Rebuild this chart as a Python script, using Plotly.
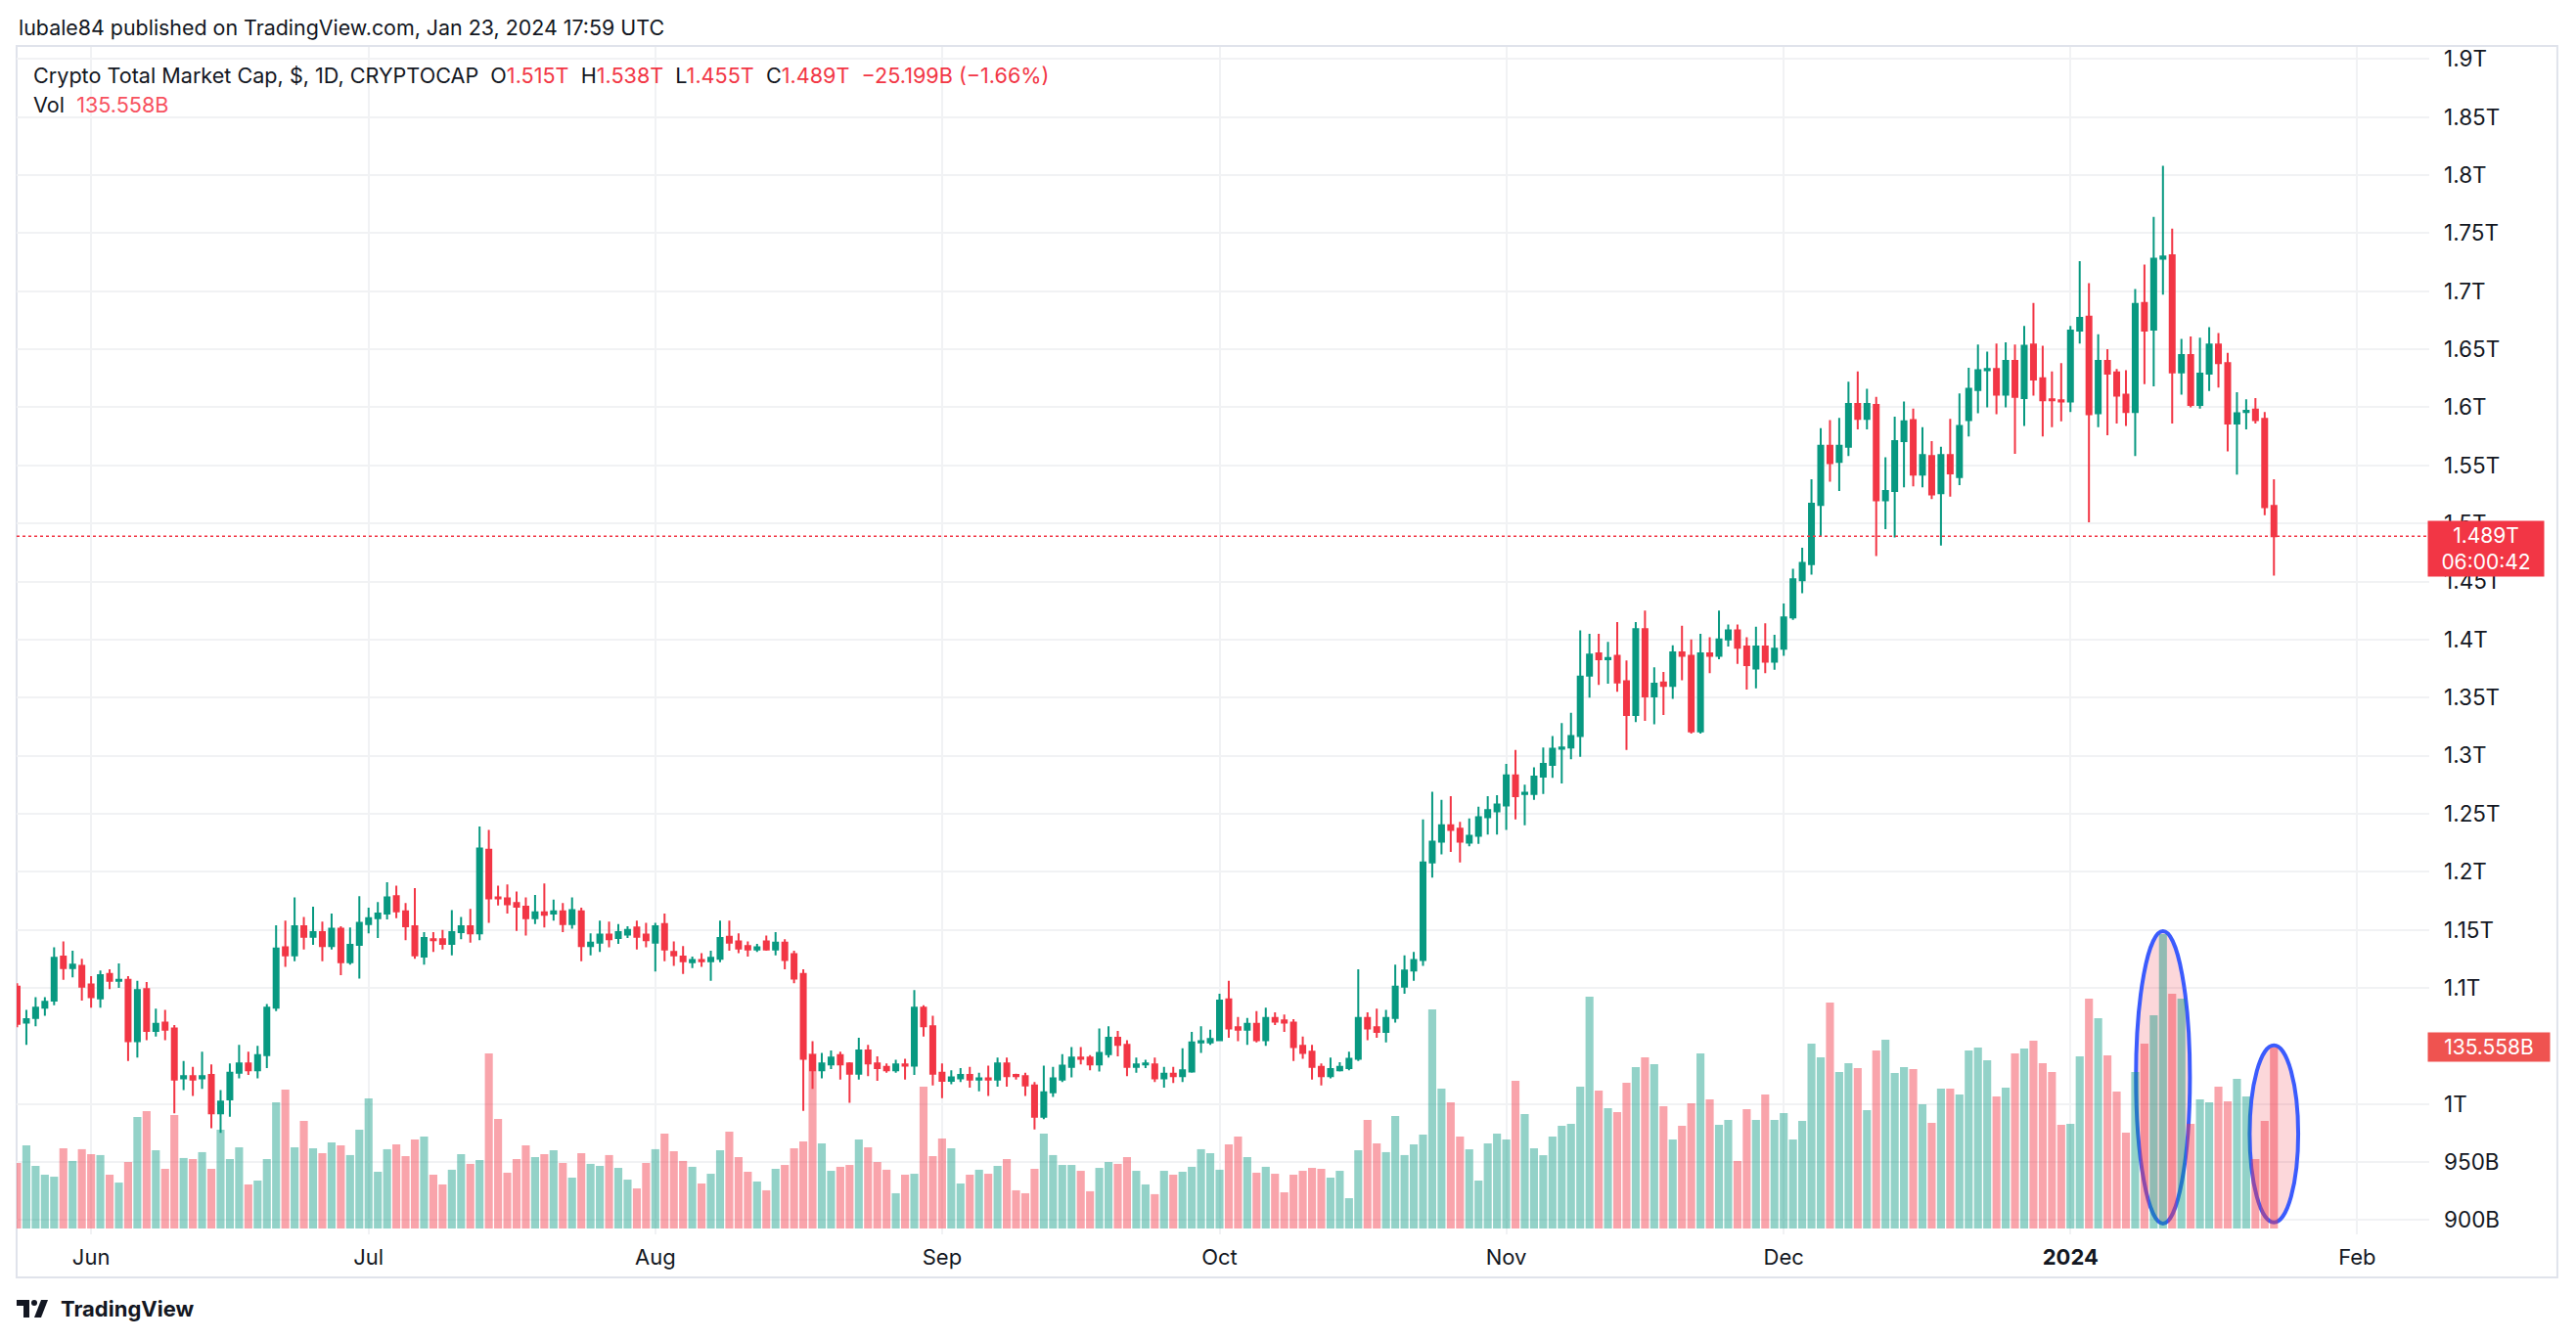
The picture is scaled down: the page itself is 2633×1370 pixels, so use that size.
import pandas as pd
import plotly.graph_objects as go

# Crypto total market cap, daily candles, values in billions of USD
dates = pd.date_range("2023-05-24", "2024-01-23", freq="D")

open_ = [
    1101, 1070, 1074, 1083, 1089, 1127, 1117, 1119, 1103, 1091,
    1112, 1106, 1107, 1054, 1099, 1063, 1070, 1065, 1022, 1024,
    1022, 1025, 992, 1004, 1027, 1035, 1029, 1042, 1083, 1135,
    1128, 1153, 1144, 1148, 1136, 1151, 1122, 1137, 1155, 1160,
    1164, 1179, 1166, 1153, 1127, 1142, 1142, 1138, 1148, 1153,
    1147, 1219, 1178, 1177, 1173, 1170, 1160, 1165, 1164, 1166,
    1155, 1166, 1136, 1139, 1146, 1143, 1146, 1152, 1146, 1139,
    1155, 1131, 1127, 1122, 1124, 1123, 1125, 1144, 1140, 1136,
    1133, 1140, 1133, 1139, 1129, 1112, 1042, 1029, 1034, 1042,
    1035, 1026, 1046, 1035, 1032, 1029, 1034, 1033, 1083, 1067,
    1027, 1020, 1022, 1025, 1021, 1022, 1021, 1035, 1025, 1024,
    1016, 989, 1010, 1021, 1032, 1040, 1040, 1034, 1043, 1057,
    1051, 1032, 1034, 1034, 1022, 1026, 1024, 1028, 1053, 1053,
    1055, 1090, 1066, 1064, 1069, 1055, 1074, 1072, 1070, 1050,
    1045, 1032, 1024, 1029, 1031, 1039, 1074, 1066, 1062, 1074,
    1101, 1115, 1124, 1208, 1226, 1240, 1237, 1225, 1231, 1247,
    1252, 1257, 1283, 1267, 1267, 1282, 1292, 1306, 1307, 1317,
    1369, 1388, 1383, 1386, 1364, 1335, 1409, 1351, 1363, 1360,
    1389, 1386, 1321, 1388, 1386, 1400, 1408, 1394, 1375, 1394,
    1381, 1392, 1419, 1451, 1465, 1516, 1567, 1553, 1566, 1603,
    1590, 1602, 1520, 1528, 1571, 1589, 1542, 1558, 1526, 1559,
    1540, 1589, 1615, 1632, 1633, 1611, 1640, 1608, 1654, 1625,
    1607, 1606, 1605, 1666, 1678, 1595, 1640, 1630, 1611, 1596,
    1690, 1667, 1728, 1731, 1630, 1645, 1602, 1629, 1654, 1638,
    1586, 1596, 1598, 1590, 1515,
]
high = [
    1104, 1081, 1092, 1092, 1135, 1140, 1132, 1125, 1110, 1115,
    1116, 1121, 1110, 1106, 1105, 1082, 1081, 1068, 1037, 1032,
    1045, 1034, 1012, 1035, 1051, 1045, 1050, 1086, 1154, 1158,
    1178, 1161, 1170, 1157, 1164, 1153, 1152, 1179, 1169, 1174,
    1191, 1188, 1173, 1186, 1148, 1148, 1150, 1167, 1161, 1168,
    1239, 1236, 1188, 1189, 1183, 1178, 1180, 1190, 1176, 1173,
    1178, 1169, 1147, 1158, 1157, 1155, 1153, 1158, 1156, 1156,
    1164, 1140, 1136, 1127, 1130, 1132, 1158, 1158, 1147, 1140,
    1138, 1145, 1148, 1142, 1132, 1116, 1054, 1044, 1046, 1045,
    1036, 1057, 1051, 1041, 1035, 1038, 1039, 1098, 1085, 1076,
    1035, 1029, 1031, 1032, 1027, 1033, 1040, 1040, 1026, 1027,
    1019, 1033, 1032, 1043, 1049, 1049, 1042, 1065, 1067, 1063,
    1055, 1040, 1038, 1040, 1032, 1032, 1048, 1062, 1067, 1064,
    1095, 1106, 1075, 1074, 1080, 1083, 1079, 1077, 1073, 1058,
    1051, 1035, 1040, 1036, 1045, 1116, 1079, 1082, 1081, 1120,
    1128, 1131, 1245, 1269, 1262, 1265, 1243, 1246, 1256, 1265,
    1266, 1293, 1305, 1275, 1290, 1307, 1317, 1328, 1337, 1408,
    1405, 1405, 1398, 1415, 1382, 1415, 1425, 1376, 1372, 1395,
    1412, 1400, 1405, 1402, 1425, 1413, 1413, 1402, 1411, 1414,
    1404, 1431, 1461, 1479, 1538, 1582, 1589, 1591, 1622, 1631,
    1616, 1609, 1557, 1592, 1605, 1599, 1583, 1571, 1566, 1590,
    1612, 1634, 1654, 1648, 1655, 1656, 1654, 1670, 1690, 1653,
    1631, 1638, 1670, 1726, 1707, 1663, 1650, 1633, 1632, 1702,
    1723, 1764, 1808, 1754, 1659, 1661, 1660, 1669, 1664, 1647,
    1613, 1607, 1608, 1596, 1538,
]
low = [
    1066, 1051, 1067, 1076, 1085, 1107, 1109, 1089, 1083, 1083,
    1099, 1100, 1037, 1040, 1055, 1058, 1055, 992, 1012, 1007,
    1013, 979, 975, 989, 1022, 1025, 1022, 1031, 1080, 1118,
    1123, 1133, 1137, 1123, 1133, 1111, 1120, 1108, 1147, 1143,
    1159, 1160, 1141, 1125, 1120, 1131, 1133, 1128, 1142, 1139,
    1141, 1156, 1171, 1164, 1149, 1145, 1155, 1152, 1158, 1148,
    1151, 1123, 1128, 1131, 1135, 1138, 1143, 1133, 1135, 1114,
    1123, 1119, 1112, 1117, 1118, 1106, 1122, 1132, 1130, 1127,
    1131, 1132, 1128, 1116, 1104, 994, 1013, 1022, 1030, 1021,
    1001, 1021, 1024, 1020, 1027, 1027, 1021, 1025, 1058, 1016,
    1005, 1017, 1019, 1014, 1011, 1007, 1015, 1015, 1021, 1007,
    978, 987, 1006, 1019, 1023, 1034, 1029, 1028, 1040, 1041,
    1024, 1027, 1031, 1019, 1014, 1018, 1019, 1027, 1044, 1051,
    1054, 1057, 1054, 1051, 1053, 1050, 1068, 1062, 1037, 1039,
    1021, 1016, 1022, 1028, 1029, 1037, 1055, 1057, 1053, 1070,
    1095, 1106, 1119, 1195, 1215, 1217, 1208, 1222, 1224, 1232,
    1232, 1236, 1245, 1240, 1262, 1267, 1281, 1276, 1297, 1299,
    1350, 1361, 1362, 1355, 1305, 1329, 1330, 1327, 1335, 1349,
    1365, 1319, 1319, 1371, 1383, 1394, 1379, 1357, 1358, 1371,
    1374, 1386, 1417, 1440, 1456, 1489, 1536, 1528, 1558, 1581,
    1581, 1472, 1495, 1488, 1531, 1532, 1531, 1521, 1481, 1523,
    1533, 1575, 1595, 1600, 1594, 1600, 1560, 1584, 1610, 1575,
    1583, 1588, 1596, 1655, 1501, 1583, 1576, 1586, 1584, 1558,
    1620, 1618, 1697, 1586, 1611, 1600, 1599, 1614, 1617, 1562,
    1542, 1581, 1586, 1507, 1455,
]
close = [
    1069, 1073, 1083, 1088, 1126, 1117, 1120, 1101, 1092, 1111,
    1106, 1107, 1054, 1098, 1063, 1069, 1064, 1021, 1024, 1021,
    1024, 992, 1002, 1027, 1035, 1029, 1042, 1083, 1134, 1128,
    1153, 1144, 1148, 1136, 1151, 1122, 1137, 1156, 1160, 1164,
    1178, 1166, 1153, 1128, 1143, 1141, 1138, 1148, 1153, 1147,
    1220, 1177, 1177, 1172, 1170, 1160, 1165, 1163, 1166, 1155,
    1167, 1136, 1139, 1146, 1142, 1148, 1150, 1144, 1141, 1153,
    1133, 1128, 1123, 1124, 1123, 1126, 1143, 1139, 1134, 1133,
    1135, 1133, 1139, 1124, 1108, 1039, 1029, 1035, 1040, 1034,
    1026, 1046, 1035, 1031, 1029, 1034, 1033, 1083, 1067, 1026,
    1020, 1023, 1025, 1021, 1022, 1021, 1035, 1024, 1024, 1016,
    989, 1010, 1022, 1033, 1040, 1039, 1034, 1044, 1057, 1051,
    1032, 1034, 1035, 1022, 1026, 1024, 1029, 1053, 1054, 1056,
    1089, 1065, 1064, 1069, 1055, 1074, 1071, 1070, 1049, 1044,
    1032, 1024, 1030, 1032, 1039, 1074, 1065, 1062, 1074, 1101,
    1115, 1124, 1208, 1226, 1240, 1236, 1226, 1231, 1247, 1253,
    1258, 1283, 1265, 1268, 1282, 1293, 1306, 1307, 1317, 1368,
    1387, 1383, 1384, 1363, 1335, 1409, 1351, 1362, 1360, 1389,
    1386, 1321, 1388, 1386, 1400, 1408, 1393, 1378, 1394, 1381,
    1392, 1419, 1452, 1466, 1517, 1567, 1552, 1567, 1603, 1590,
    1603, 1520, 1528, 1571, 1588, 1542, 1559, 1525, 1559, 1543,
    1584, 1616, 1632, 1633, 1611, 1640, 1609, 1653, 1624, 1606,
    1606, 1605, 1666, 1677, 1594, 1640, 1629, 1610, 1596, 1689,
    1666, 1728, 1730, 1630, 1645, 1602, 1629, 1654, 1638, 1586,
    1595, 1597, 1589, 1514, 1489,
]
volume = [
    49.1, 62.3, 46.9, 40.3, 38.8, 60.1, 50.6, 59.4, 55.7, 55.0,
    40.3, 34.4, 49.8, 83.6, 87.9, 58.6, 44.7, 85.0, 52.8, 52.0,
    57.2, 44.7, 74.0, 52.0, 60.8, 33.0, 35.9, 52.0, 94.5, 104.1,
    60.8, 80.6, 60.1, 56.4, 64.5, 62.3, 55.0, 74.0, 97.5, 42.5,
    59.4, 63.0, 54.2, 66.7, 68.9, 40.3, 33.0, 44.0, 55.7, 48.4,
    51.3, 131.2, 82.1, 41.8, 52.0, 62.3, 53.5, 55.7, 58.6, 49.1,
    38.1, 56.4, 48.4, 46.9, 55.0, 45.4, 36.6, 30.0, 49.1, 59.4,
    71.1, 57.9, 50.6, 46.2, 33.7, 41.0, 58.6, 72.6, 53.5, 42.5,
    35.2, 28.6, 44.7, 47.6, 60.1, 65.2, 131.2, 63.8, 43.2, 46.2,
    47.6, 66.7, 60.8, 49.8, 44.0, 26.4, 40.3, 41.0, 106.3, 54.2,
    67.4, 60.1, 33.7, 40.3, 44.0, 41.0, 46.9, 52.0, 28.6, 26.4,
    44.7, 71.1, 55.0, 47.6, 47.6, 43.2, 27.9, 45.4, 49.8, 48.4,
    53.5, 43.2, 33.0, 25.7, 43.2, 40.3, 42.5, 46.2, 59.4, 56.4,
    44.0, 63.0, 68.9, 53.5, 41.8, 46.2, 41.0, 27.1, 40.3, 43.2,
    45.4, 44.7, 38.1, 43.2, 22.7, 58.6, 81.4, 63.8, 57.2, 84.3,
    55.0, 63.0, 70.4, 164.2, 104.8, 94.5, 68.9, 59.3, 35.9, 63.7,
    71.1, 66.7, 110.6, 85.7, 60.1, 54.9, 68.9, 76.9, 78.4, 106.2,
    173.6, 103.3, 90.1, 87.2, 109.2, 120.9, 128.2, 123.1, 91.6, 66.7,
    76.9, 93.8, 131.2, 96.7, 77.7, 81.3, 50.6, 89.4, 81.3, 100.4,
    81.3, 86.5, 66.7, 80.6, 138.5, 128.2, 169.2, 117.2, 123.8, 120.2,
    88.7, 133.3, 141.4, 116.5, 120.9, 119.4, 93.1, 79.1, 104.8, 104.8,
    100.4, 133.3, 135.5, 126.0, 98.9, 105.5, 131.2, 134.8, 140.7, 123.8,
    117.2, 77.7, 78.4, 129.0, 172.2, 157.5, 129.7, 102.6, 71.8, 117.2,
    138.5, 159.7, 220.5, 175.8, 172.2, 78.4, 96.7, 94.5, 106.2, 95.2,
    112.1, 98.9, 52.0, 80.6, 135.558,
]

month_ticks = ["2023-06-01", "2023-07-01", "2023-08-01", "2023-09-01", "2023-10-01",
               "2023-11-01", "2023-12-01", "2024-01-01", "2024-02-01"]
month_labels = ["Jun", "Jul", "Aug", "Sep", "Oct", "Nov", "Dec", "<b>2024</b>", "Feb"]

# 1.05T sits under the volume label in the original, so it is left out
price_ticks = [v for v in range(900, 1901, 50) if v != 1050]


def fmt_price(v):
    if v < 1000:
        return f"{v}B"
    return f"{v / 1000:.2f}".rstrip("0").rstrip(".") + "T"


UP = "#089981"
DOWN = "#F23645"
TEXT = "#131722"
GRID = "#F1F2F4"
FONT = "Inter, Roboto, sans-serif"

vol_colors = ["rgba(8,153,129,0.44)" if c >= o else "rgba(242,54,69,0.45)"
              for o, c in zip(open_, close)]

fig = go.Figure()

fig.add_trace(go.Bar(
    x=dates, y=volume, marker_color=vol_colors, marker_line_width=0,
    width=0.86 * 86400000, yaxis="y", hoverinfo="skip",
))

fig.add_trace(go.Candlestick(
    x=dates, open=open_, high=high, low=low, close=close,
    increasing=dict(line=dict(color=UP, width=2), fillcolor=UP),
    decreasing=dict(line=dict(color=DOWN, width=2), fillcolor=DOWN),
    yaxis="y2", hoverinfo="skip",
))

last_close = close[-1]
last_vol = volume[-1]

shapes = [
    # outer frame
    dict(type="rect", xref="paper", yref="paper", x0=0, x1=1.0531, y0=-0.0362, y1=1.0008,
         line=dict(color="#E0E3EB", width=2), layer="below"),
    # last price line
    dict(type="line", xref="paper", yref="y2", x0=0, x1=1, y0=last_close, y1=last_close,
         line=dict(color=DOWN, width=1.5, dash="dot")),
    # hand-drawn ellipses around the volume spikes
    dict(type="circle", xref="x", yref="y", x0="2024-01-08 02:00", x1="2024-01-13 22:00",
         y0=3.7, y1=222.7, fillcolor="rgba(242,54,69,0.2)",
         line=dict(color="#3B5BFD", width=4), layer="between"),
    dict(type="circle", xref="x", yref="y", x0="2024-01-20 09:00", x1="2024-01-25 15:00",
         y0=4.6, y1=137.2, fillcolor="rgba(242,54,69,0.2)",
         line=dict(color="#3B5BFD", width=4), layer="between"),
    # TradingView logo mark
    dict(type="path", xref="paper", yref="paper", xsizemode="pixel", ysizemode="pixel",
         xanchor=0, yanchor=0, path="M0,-67 L13,-67 L13,-85 L7,-85 L7,-73 L0,-73 Z",
         fillcolor=TEXT, line=dict(width=0)),
    dict(type="circle", xref="paper", yref="paper", xsizemode="pixel", ysizemode="pixel",
         xanchor=0, yanchor=0, x0=15, x1=21, y0=-73, y1=-67,
         fillcolor=TEXT, line=dict(width=0)),
    dict(type="path", xref="paper", yref="paper", xsizemode="pixel", ysizemode="pixel",
         xanchor=0, yanchor=0, path="M25,-67 L32,-67 L25,-85 L18,-85 Z",
         fillcolor=TEXT, line=dict(width=0)),
]

red = f"color:{DOWN}"
nb = "\u00a0"
legend1 = (f"Crypto Total Market Cap, $, 1D, CRYPTOCAP{nb}{nb}O<span style='{red}'>1.515T</span>"
           f"{nb}{nb}H<span style='{red}'>1.538T</span>{nb}{nb}L<span style='{red}'>1.455T</span>"
           f"{nb}{nb}C<span style='{red}'>1.489T</span>{nb}{nb}"
           f"<span style='{red}'>\u221225.199B (\u22121.66%)</span>")
legend2 = f"Vol{nb}{nb}<span style='color:#F7525F'>135.558B</span>"

annotations = [
    dict(text="lubale84 published on TradingView.com, Jan 23, 2024 17:59 UTC",
         xref="paper", yref="paper", x=0, y=1.0161, xanchor="left", yanchor="middle",
         showarrow=False, font=dict(size=21.4, color=TEXT, family=FONT)),
    dict(text=legend1, xref="paper", yref="paper", x=0.0061, y=0.9761,
         xanchor="left", yanchor="middle", showarrow=False,
         font=dict(size=21.6, color=TEXT, family=FONT)),
    dict(text=legend2, xref="paper", yref="paper", x=0.0061, y=0.9514,
         xanchor="left", yanchor="middle", showarrow=False,
         font=dict(size=21.6, color=TEXT, family=FONT)),
    dict(text="1.489T<br>06:00:42", xref="paper", yref="y2", x=1, y=last_close,
         xanchor="left", yanchor="top", xshift=-2, yshift=16, showarrow=False,
         bgcolor=DOWN, borderpad=2, width=114, align="center",
         font=dict(size=21, color="white", family=FONT)),
    dict(text="135.558B", xref="paper", yref="y", x=1, y=last_vol,
         xanchor="left", yanchor="middle", xshift=-2, showarrow=False,
         bgcolor="#EF5350", borderpad=2, width=120, align="center",
         font=dict(size=21, color="white", family=FONT)),
    dict(text="<b>TradingView</b>", xref="paper", yref="paper", x=0.0174, y=-0.0626,
         xanchor="left", yanchor="middle", showarrow=False,
         font=dict(size=22, color=TEXT, family=FONT)),
]

# the page body adds an 8px offset, so the figure is 8px smaller and margins shifted
fig.update_layout(
    width=2625, height=1362,
    margin=dict(l=9, r=150, t=40, b=108),
    paper_bgcolor="white", plot_bgcolor="white",
    showlegend=False,
    boxgap=0.47, boxgroupgap=0,
    font=dict(family=FONT, color=TEXT, size=21),
    xaxis=dict(
        type="date", range=["2023-05-23 22:45", "2024-02-08 19:00"],
        tickvals=month_ticks, ticktext=month_labels,
        showgrid=True, gridcolor=GRID, gridwidth=1.5,
        zeroline=False, showline=False, ticks="",
        tickfont=dict(size=22, color=TEXT), ticklabelstandoff=8,
        rangeslider=dict(visible=False),
    ),
    yaxis=dict(range=[-4.4, 885.1], visible=False, fixedrange=True),
    yaxis2=dict(
        overlaying="y", side="right", range=[887.7, 1910.4],
        tickvals=price_ticks, ticktext=[fmt_price(v) for v in price_ticks],
        showgrid=True, gridcolor=GRID, gridwidth=1.5,
        zeroline=False, showline=False, ticks="",
        tickfont=dict(size=22.5, color=TEXT), ticklabelstandoff=14,
    ),
    shapes=shapes,
    annotations=annotations,
)

fig.write_html("out.html")
